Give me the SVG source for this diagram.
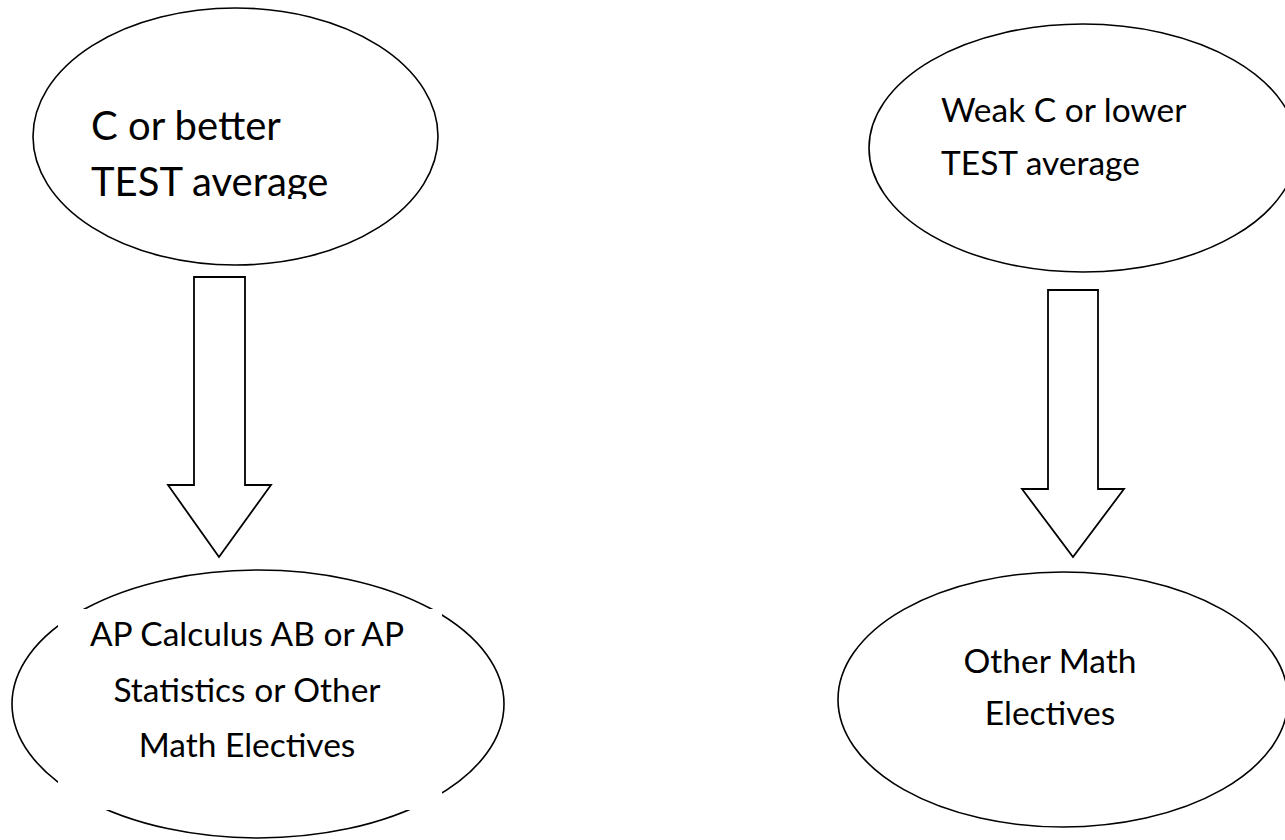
<svg xmlns="http://www.w3.org/2000/svg" width="1285" height="840" viewBox="0 0 1285 840">
  <style>
    .shape { fill: #ffffff; stroke: #000000; stroke-width: 1.6; }
    .arrow { fill: #ffffff; stroke: #000000; stroke-width: 1.8; stroke-linejoin: miter; }
    .mask { fill: #ffffff; stroke: none; }
    .lbl { font-family: Lato, "Open Sans", "Liberation Sans", sans-serif; fill: #000000; }
    .big { font-size: 40px; }
    .med { font-size: 33.5px; }
    .mid { text-anchor: middle; }
  </style>
  <defs>
    <clipPath id="clipTL">
      <rect x="0" y="0" width="1285" height="199"/>
    </clipPath>
  </defs>
  <rect x="0" y="0" width="1285" height="840" fill="#ffffff"/>

  <g id="node-c-or-better">
    <ellipse class="shape" cx="235.5" cy="136.5" rx="202.5" ry="128.5"/>
    <g clip-path="url(#clipTL)">
      <text class="lbl big" x="91" y="140">C or better</text>
      <text class="lbl big" x="91" y="196">TEST average</text>
    </g>
  </g>

  <g id="node-weak-c">
    <ellipse class="shape" cx="1083" cy="148" rx="214" ry="124"/>
    <text class="lbl med" x="941" y="122">Weak C or lower</text>
    <text class="lbl med" x="941" y="175">TEST average</text>
  </g>

  <g id="node-ap">
    <ellipse class="shape" cx="258" cy="704" rx="246" ry="134"/>
    <rect class="mask" x="58" y="609" width="384" height="201"/>
    <text class="lbl med mid" x="247" y="646">AP Calculus AB or AP</text>
    <text class="lbl med mid" x="247" y="702">Statistics or Other</text>
    <text class="lbl med mid" x="247" y="757">Math Electives</text>
  </g>

  <g id="node-other">
    <ellipse class="shape" cx="1063" cy="699.5" rx="225" ry="127.5"/>
    <text class="lbl med mid" x="1050" y="673">Other Math</text>
    <text class="lbl med mid" x="1050" y="725">Electives</text>
  </g>

  <g id="connectors">
    <polygon class="arrow" points="194,277 245,277 245,485 271,485 219,557 168,485 194,485"/>
    <polygon class="arrow" points="1048,290 1098,290 1098,489 1124,489 1073,557 1022,489 1048,489"/>
  </g>
</svg>
